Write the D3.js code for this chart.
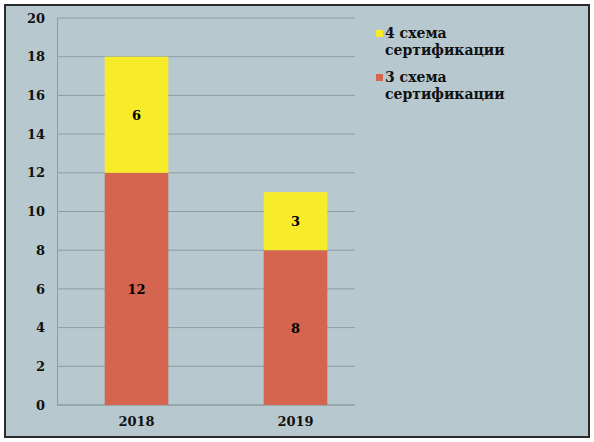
<!DOCTYPE html>
<html><head><meta charset="utf-8">
<script src="https://cdn.jsdelivr.net/npm/d3@7"></script>
<style>body{margin:0;background:#fff}</style>
</head><body><div id="container"></div>
<script>
let years = ["2018", "2019"];
let scheme3 = [12, 8];
let scheme4 = [6, 3];
let yTicks = [0, 2, 4, 6, 8, 10, 12, 14, 16, 18, 20];
let seriesNames = ["4 схема сертификации", "3 схема сертификации"];

let w = 594, h = 442;
let viz = d3.select("#container").append("svg").attr("width", w).attr("height", h);
viz.append("rect").attr("x", 5).attr("y", 5).attr("width", 584).attr("height", 432)
  .attr("fill", "#b7c9ce").attr("stroke", "#2b2b2b").attr("stroke-width", 2);

let font = "'DejaVu Serif', serif";
let x = d3.scaleBand().domain(years).range([57, 375]).paddingInner(0.6).paddingOuter(0.3);
let y = d3.scaleLinear().domain([0, 20]).range([405, 18]);

// gridlines
viz.selectAll(".grid").data(yTicks).enter().append("line")
  .attr("x1", 57).attr("x2", 355).attr("y1", d => y(d)).attr("y2", d => y(d))
  .attr("stroke", "#8c9ea3").attr("stroke-width", 1);

let yAxis = viz.append("g").attr("transform", "translate(57,0)")
  .call(d3.axisLeft(y).tickValues(yTicks).tickSize(0).tickPadding(12));
yAxis.select(".domain").attr("stroke", "#8c9ea3");
yAxis.selectAll("text").style("font-family", font).style("font-weight", "bold").style("font-size", "13px").attr("fill", "#111");

let xAxis = viz.append("g").attr("transform", "translate(0,405)")
  .call(d3.axisBottom(x).tickSize(0).tickPadding(12));
xAxis.select(".domain").attr("stroke", "#8c9ea3").attr("d", "M57,0H355");
xAxis.selectAll("text").style("font-family", font).style("font-weight", "bold").style("font-size", "13px").attr("fill", "#111");

let stacks = [
  {vals: scheme3, base: [0, 0], color: "#d5654f"},
  {vals: scheme4, base: scheme3, color: "#f8ec2a"}
];
stacks.forEach(s => {
  years.forEach((yr, i) => {
    let lo = s.base[i], hi = s.base[i] + s.vals[i];
    viz.append("rect").attr("x", x(yr)).attr("width", x.bandwidth())
      .attr("y", y(hi)).attr("height", y(lo) - y(hi)).attr("fill", s.color);
    viz.append("text").attr("x", x(yr) + x.bandwidth() / 2).attr("y", y((lo + hi) / 2) + 5)
      .attr("text-anchor", "middle").style("font-family", font).style("font-weight", "bold")
      .style("font-size", "13px").text(s.vals[i]);
  });
});

let legColors = ["#f8ec2a", "#d5654f"];
seriesNames.forEach((n, i) => {
  let ly = 38 + i * 44;
  viz.append("rect").attr("x", 376).attr("y", ly - 8).attr("width", 7).attr("height", 7).attr("fill", legColors[i]);
  let words = n.split(" ");
  let t = viz.append("text").style("font-family", font).style("font-weight", "bold").style("font-size", "14px").attr("fill", "#111");
  t.append("tspan").attr("x", 385).attr("y", ly).text(words[0] + " " + words[1]);
  t.append("tspan").attr("x", 385).attr("y", ly + 17).text(words[2]);
});
</script></body></html>
